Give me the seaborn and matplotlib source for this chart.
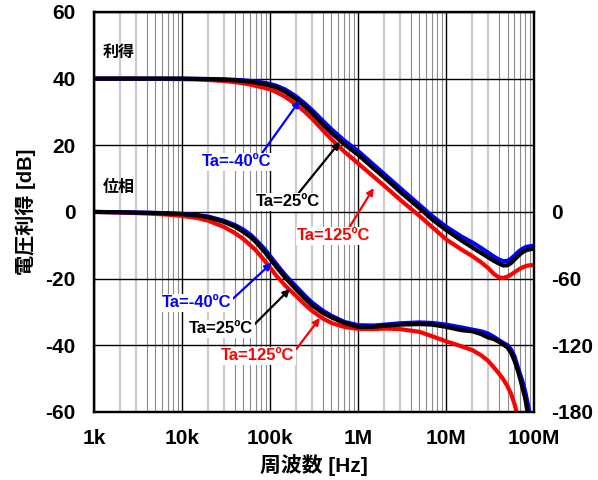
import numpy as np
import pandas as pd
import seaborn as sns
import matplotlib.pyplot as plt
from matplotlib.ticker import FixedLocator, LogLocator, NullFormatter

# frequency points [Hz]
freq = [1e3, 2e3, 3e3, 5e3, 7e3, 1e4, 1.5e4, 2e4, 3e4, 4e4, 5e4, 6e4, 7e4,
        8.5e4, 1e5, 1.2e5, 1.5e5, 2e5, 2.5e5, 3e5, 4e5, 5e5, 7e5, 1e6, 1.5e6,
        2e6, 3e6, 5e6, 7e6, 1e7, 1.5e7, 2e7, 2.5e7, 3e7, 3.5e7, 4e7, 4.5e7,
        5e7, 5.5e7, 6e7, 6.5e7, 7e7, 7.5e7, 8e7, 8.5e7, 9e7, 9.5e7, 1e8]

# voltage gain [dB]
gain_m40 = [40.0, 40.0, 40.0, 40.0, 40.0, 40.0, 39.95, 39.9, 39.8, 39.65, 39.5,
            39.3, 39.1, 38.8, 38.4, 37.8, 36.7, 34.6, 32.5, 30.6, 27.3, 24.8,
            21.4, 18.3, 14.2, 11.3, 7.2, 2.1, -1.3, -4.4, -7.4, -9.2, -10.8,
            -12.2, -13.4, -14.3, -14.8, -14.7, -14.0, -13.1, -12.2, -11.5,
            -11.0, -10.6, -10.4, -10.3, -10.2, -10.2]
gain_25 = [40.0, 40.0, 40.0, 40.0, 40.0, 40.0, 39.9, 39.85, 39.7, 39.5, 39.3,
           39.05, 38.8, 38.4, 38.0, 37.3, 36.0, 33.8, 31.7, 29.7, 26.3, 23.7,
           20.3, 17.2, 13.1, 10.3, 6.1, 1.1, -2.3, -5.4, -8.6, -10.7, -12.3,
           -13.6, -14.7, -15.5, -16.1, -16.0, -15.3, -14.3, -13.4, -12.6,
           -12.0, -11.6, -11.4, -11.2, -11.1, -11.1]
gain_125 = [40.0, 40.0, 40.0, 39.95, 39.9, 39.85, 39.75, 39.6, 39.3, 38.95,
            38.6, 38.2, 37.8, 37.3, 36.8, 35.9, 34.5, 32.2, 30.0, 28.0, 24.5,
            21.8, 18.1, 14.6, 10.6, 7.8, 3.7, -1.2, -4.6, -8.2, -11.3, -13.3,
            -15.1, -16.8, -18.6, -19.7, -19.8, -19.4, -18.8, -18.1, -17.5,
            -17.0, -16.6, -16.3, -16.1, -16.0, -16.0, -16.0]

# phase [deg]
phase_m40 = [0, -0.3, -0.5, -0.9, -1.2, -1.7, -2.8, -4.2, -8.0, -11.8, -16,
             -20.5, -25.5, -32.5, -39.5, -47.5, -57, -67.5, -75.5, -81.5, -89,
             -93.5, -99, -102, -102.3, -101.5, -100.3, -99.5, -100, -101.5,
             -104, -106, -107.5, -109.5, -112.5, -115.5, -118, -120, -124,
             -130, -139, -147, -154, -163, -173, -184, -196, -208]
phase_25 = [0, -0.3, -0.6, -1.0, -1.4, -2.0, -3.2, -4.8, -9.0, -13.2, -18,
            -22.5, -27.5, -35, -42, -50, -59.5, -70, -78, -84, -91, -95, -100,
            -103.5, -103.5, -102.5, -101.5, -101, -101.5, -103.5, -106.5,
            -107.5, -110, -113, -114.5, -117, -119.5, -122, -127, -134, -142,
            -151, -160, -169, -182, -195, -208, -220]
phase_125 = [0, -0.5, -1.0, -1.8, -2.5, -3.6, -5.5, -8, -13.5, -19, -24.5, -30,
             -35, -43, -50, -58, -66.5, -76, -83.5, -89, -96, -100, -103.5,
             -105.3, -105.5, -105, -105.5, -108, -112, -116.5, -121, -124.5,
             -129, -134, -140, -145.5, -151, -157, -164, -173, -183, -194,
             -205, -215, -224, -232, -240, -248]

temps = ['Ta=-40ºC', 'Ta=25ºC', 'Ta=125ºC']
palette = {'Ta=-40ºC': '#0000ff', 'Ta=25ºC': '#000000', 'Ta=125ºC': '#ff0000'}
draw_order = ['Ta=125ºC', 'Ta=-40ºC', 'Ta=25ºC']

freq_ticks = [1e3, 1e4, 1e5, 1e6, 1e7, 1e8]
freq_labels = ['1k', '10k', '100k', '1M', '10M', '100M']
gain_ticks = [-60, -40, -20, 0, 20, 40, 60]
phase_ticks = [0, -60, -120, -180]

gain_df = pd.concat([
    pd.DataFrame({'freq': freq, 'value': g, 'temp': t})
    for t, g in zip(temps, [gain_m40, gain_25, gain_125])])
phase_df = pd.concat([
    pd.DataFrame({'freq': freq, 'value': p, 'temp': t})
    for t, p in zip(temps, [phase_m40, phase_25, phase_125])])

sns.set_style('white')
plt.rcParams['font.family'] = ['Liberation Sans', 'Noto Sans CJK JP']
plt.rcParams['font.weight'] = 'bold'
plt.rcParams['axes.unicode_minus'] = False
for key in ('text.color', 'axes.labelcolor', 'xtick.color', 'ytick.color'):
    plt.rcParams[key] = 'black'

fig = plt.figure(figsize=(5.98, 4.8), dpi=100)
ax = fig.add_axes([0.157, 0.142, 0.736, 0.833])
ax.set_xscale('log')

sns.lineplot(data=gain_df, x='freq', y='value', hue='temp', hue_order=draw_order,
             palette=palette, lw=3, legend=False, ax=ax, zorder=3)

ax.set_xlim(1e3, 1e8)
ax.set_ylim(-60, 60)
ax.xaxis.set_major_locator(FixedLocator(freq_ticks))
ax.set_xticklabels(freq_labels)
ax.xaxis.set_minor_locator(LogLocator(base=10, subs=range(2, 10)))
ax.xaxis.set_minor_formatter(NullFormatter())
ax.set_yticks(gain_ticks)
ax.grid(which='major', color='black', lw=1)
ax.grid(which='minor', axis='x', color='#8c8c8c', lw=0.8)
# the 2x and 3x lines of each decade are lighter and wider
for loc, tick in zip(ax.xaxis.get_minorticklocs(), ax.xaxis.get_minor_ticks()):
    m = round(loc / 10 ** np.floor(np.log10(loc) + 1e-9))
    if m in (2, 3):
        tick.gridline.set_color('#cccccc')
        tick.gridline.set_linewidth(1.6)
ax.tick_params(axis='both', which='both', length=0, labelsize=15)
ax.tick_params(axis='y', pad=13)
ax.tick_params(axis='x', pad=12)
for lab in ax.get_xticklabels() + ax.get_yticklabels():
    lab.set_fontweight('bold')
ax.set_xlabel('周波数 [Hz]', fontsize=15, fontweight='bold', labelpad=5)
ax.set_ylabel('電圧利得 [dB]', fontsize=14.5, fontweight='bold', labelpad=7)

ax2 = ax.twinx()
sns.lineplot(data=phase_df, x='freq', y='value', hue='temp', hue_order=draw_order,
             palette=palette, lw=3, legend=False, ax=ax2)
ax2.set_ylim(-180, 180)
ax2.set_yticks(phase_ticks)
ax2.set_ylabel('')
ax2.tick_params(axis='y', length=0, labelsize=15, pad=12)
for lab in ax2.get_yticklabels():
    lab.set_fontweight('bold')

for a in (ax, ax2):
    for s in a.spines.values():
        s.set_color('black')
        s.set_linewidth(1.6)

ax.text(1.27e3, 48, '利得', fontsize=11.5, fontweight='bold', va='center', zorder=5)
ax.text(1.27e3, 7.5, '位相', fontsize=11.5, fontweight='bold', va='center', zorder=5)

notes = [
    # text, text pos, arrow tip, relpos
    ('Ta=-40ºC', (4.2e4, 15.0), (2.19e5, 33.5), (0.85, 1.0)),
    ('Ta=25ºC', (1.6e5, 3.0), (6.24e5, 21.0), (0.65, 1.0)),
    ('Ta=125ºC', (5.34e5, -7.2), (1.51e6, 7.2), (0.7, 1.0)),
    ('Ta=-40ºC', (1.48e4, -27.3), (1.05e5, -15.3), (1.0, 0.7)),
    ('Ta=25ºC', (2.77e4, -35.1), (1.69e5, -23.1), (1.0, 0.7)),
    ('Ta=125ºC', (7.3e4, -43.2), (3.7e5, -31.8), (1.0, 0.8)),
]
for label, pos, tip, rel in notes:
    c = palette[label]
    ax2.annotate(label, xy=tip, xytext=pos, xycoords=ax.transData,
                 textcoords=ax.transData, ha='center', va='center',
                 fontsize=12, fontweight='bold', color=c, zorder=6,
                 bbox=dict(boxstyle='square,pad=0.1', fc='white', ec='none'),
                 arrowprops=dict(arrowstyle='-|>', color=c, lw=1.6,
                                 mutation_scale=10, relpos=rel, shrinkA=0,
                                 shrinkB=0))

plt.savefig('out.png', dpi=100)
